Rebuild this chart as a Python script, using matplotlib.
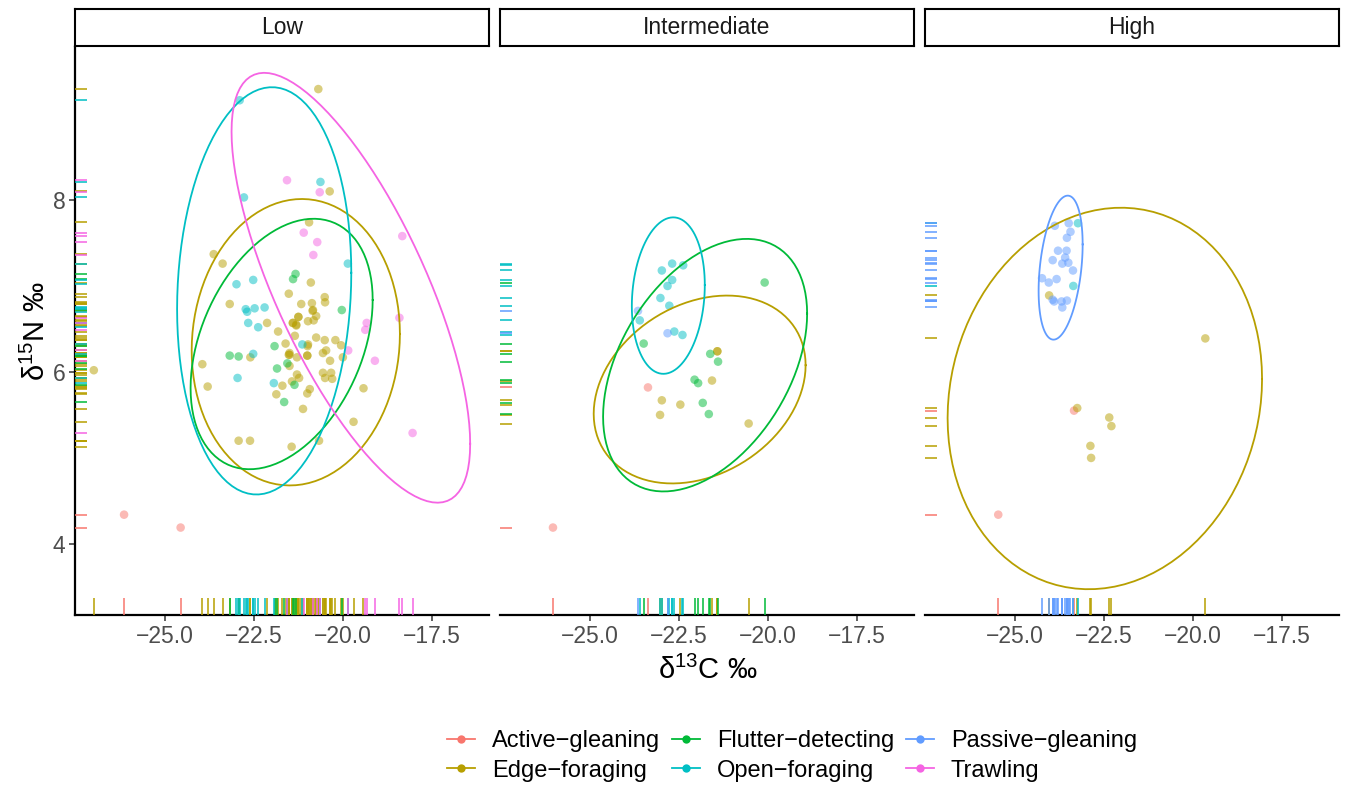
import numpy as np
import matplotlib
matplotlib.use("Agg")
import matplotlib.pyplot as plt
from matplotlib.lines import Line2D
from matplotlib.transforms import blended_transform_factory

plt.rcParams['font.family'] = ['Liberation Sans', 'DejaVu Sans']
plt.rcParams['mathtext.default'] = 'regular'

GROUPS = ["Active-gleaning", "Edge-foraging", "Flutter-detecting",
          "Open-foraging", "Passive-gleaning", "Trawling"]
LEGEND_LABELS = [g.replace("-", "\u2212") for g in GROUPS]
COLORS = ["#F8766D", "#B79F00", "#00BA38", "#00BFC4", "#619CFF", "#F564E3"]
PANELS = ["Low", "Intermediate", "High"]
X_TICKS = [-25.0, -22.5, -20.0, -17.5]
Y_TICKS = [4, 6, 8]

# ---------------- Low ----------------
low_active_c = [-26.15, -24.56]
low_active_n = [4.34, 4.19]
low_edge_c = [-20.69, -20.37, -27.0, -23.63, -23.38, -23.18, -20.95, -20.9, -21.52, -21.17,
              -20.87, -20.84, -20.51, -20.50, -21.25, -20.75, -20.82, -20.98, -21.40, -21.31,
              -22.13, -21.82, -21.35, -21.61, -20.75, -20.51, -20.21, -20.05, -20.0, -20.47,
              -20.56, -20.98, -21.0, -21.5, -21.52, -21.29, -21.5, -20.36, -22.6, -23.95,
              -23.8, -20.56, -20.33, -20.3, -20.5, -21.29, -21.23, -21.43, -21.7, -20.93,
              -21.0, -21.87, -21.12, -19.42, -19.7, -22.93, -22.61, -21.44, -20.67,
              -20.85, -21.31, -20.99, -21.5, -21.41, -21.0, -21.25]
low_edge_n = [9.29, 8.10, 6.02, 7.37, 7.26, 6.79, 7.74, 7.04, 6.91, 6.79,
              6.80, 6.72, 6.87, 6.81, 6.64, 6.65, 6.60, 6.59, 6.57, 6.55,
              6.57, 6.47, 6.42, 6.33, 6.40, 6.37, 6.37, 6.31, 6.17, 6.25,
              6.22, 6.32, 6.19, 6.22, 6.20, 6.17, 6.07, 6.13, 6.17, 6.09,
              5.83, 5.99, 5.99, 5.92, 5.93, 5.97, 5.93, 5.89, 5.84, 5.80,
              5.75, 5.74, 5.57, 5.81, 5.42, 5.20, 5.20, 5.13, 5.20,
              6.71, 6.54, 6.30, 6.20, 6.57, 6.19, 6.64]
low_flutter_c = [-21.33, -21.4, -20.03, -21.92, -23.18, -22.93, -21.56, -21.85, -21.36, -21.65]
low_flutter_n = [7.14, 7.08, 6.72, 6.30, 6.19, 6.18, 6.10, 6.04, 5.85, 5.65]
low_open_c = [-22.9, -22.78, -20.63, -19.86, -22.99, -22.52, -22.73, -22.69, -22.48, -22.2,
              -22.66, -22.38, -22.52, -22.96, -21.94, -21.14]
low_open_n = [9.16, 8.03, 8.21, 7.26, 7.02, 7.07, 6.73, 6.70, 6.74, 6.75,
              6.57, 6.52, 6.21, 5.93, 5.87, 6.32]
low_trawl_c = [-21.57, -20.65, -21.1, -20.72, -20.83, -18.33, -18.41, -19.33, -19.37, -19.85, -19.1, -18.04]
low_trawl_n = [8.23, 8.09, 7.62, 7.51, 7.36, 7.58, 6.63, 6.57, 6.49, 6.25, 6.13, 5.29]

# ---------------- Intermediate ----------------
mid_active_c = [-26.04, -23.37]
mid_active_n = [4.19, 5.82]
mid_edge_c = [-21.42, -21.42, -21.57, -22.98, -22.46, -23.03, -20.54]
mid_edge_n = [6.24, 6.24, 5.90, 5.67, 5.62, 5.50, 5.40]
mid_flutter_c = [-20.09, -23.49, -21.62, -21.40, -22.06, -21.96, -21.83, -21.66]
mid_flutter_n = [7.04, 6.33, 6.21, 6.12, 5.91, 5.87, 5.64, 5.51]
mid_open_c = [-22.69, -22.38, -22.98, -22.69, -22.82, -23.02, -22.77, -23.6, -22.63, -22.40]
mid_open_n = [7.26, 7.24, 7.18, 7.07, 7.00, 6.86, 6.77, 6.60, 6.47, 6.43]
mid_passive_c = [-23.65, -22.82]
mid_passive_n = [6.71, 6.45]

# ---------------- High ----------------
high_active_c = [-25.47, -23.34]
high_active_n = [4.34, 5.55]
high_edge_c = [-19.65, -23.25, -22.35, -22.29, -22.88, -22.86, -24.04]
high_edge_n = [6.39, 5.58, 5.47, 5.37, 5.14, 5.00, 6.89]
high_open_c = [-23.23, -23.36]
high_open_n = [7.73, 7.00]
high_passive_c = [-23.88, -23.49, -23.44, -23.54, -23.79, -23.55, -23.59, -23.94, -23.67, -23.50,
                  -23.37, -24.24, -23.83, -24.05, -23.90, -23.69, -23.54, -23.67, -23.94]
high_passive_n = [7.70, 7.73, 7.63, 7.56, 7.41, 7.41, 7.33, 7.30, 7.26, 7.27,
                  7.18, 7.09, 7.08, 7.04, 6.82, 6.82, 6.83, 6.75, 6.84]

panel_data = {
    "Low": {"Active-gleaning": (low_active_c, low_active_n),
            "Edge-foraging": (low_edge_c, low_edge_n),
            "Flutter-detecting": (low_flutter_c, low_flutter_n),
            "Open-foraging": (low_open_c, low_open_n),
            "Trawling": (low_trawl_c, low_trawl_n)},
    "Intermediate": {"Active-gleaning": (mid_active_c, mid_active_n),
                     "Edge-foraging": (mid_edge_c, mid_edge_n),
                     "Flutter-detecting": (mid_flutter_c, mid_flutter_n),
                     "Open-foraging": (mid_open_c, mid_open_n),
                     "Passive-gleaning": (mid_passive_c, mid_passive_n)},
    "High": {"Active-gleaning": (high_active_c, high_active_n),
             "Edge-foraging": (high_edge_c, high_edge_n),
             "Open-foraging": (high_open_c, high_open_n),
             "Passive-gleaning": (high_passive_c, high_passive_n)},
}


def ellipse_path(x, y, level=0.95, segments=101):
    """Normal-theory confidence ellipse (like ggplot2 stat_ellipse(type='norm'))."""
    x = np.asarray(x, float)
    y = np.asarray(y, float)
    n = len(x)
    if n < 3:
        return None
    center = np.array([x.mean(), y.mean()])
    cov = np.cov(np.vstack([x, y]))
    dfd = n - 1
    qf = dfd / 2.0 * ((1 - level) ** (-2.0 / dfd) - 1)
    radius = np.sqrt(2 * qf)
    L = np.linalg.cholesky(cov)
    t = np.linspace(0, 2 * np.pi, segments)
    circ = np.column_stack([np.cos(t), np.sin(t)])
    return center + radius * circ @ L.T


# shared limits like ggplot (data + ellipse paths, 5% expansion)
allx, ally = [], []
ellipses = {}
for p in PANELS:
    for g, (cx, ny) in panel_data[p].items():
        allx += list(cx)
        ally += list(ny)
        e = ellipse_path(cx, ny)
        ellipses[(p, g)] = e
        if e is not None:
            allx += list(e[:, 0])
            ally += list(e[:, 1])
xmin, xmax = min(allx), max(allx)
ymin, ymax = min(ally), max(ally)
xpad = 0.05 * (xmax - xmin)
ypad = 0.05 * (ymax - ymin)
xlim = (xmin - xpad, xmax + xpad)
ylim = (ymin - ypad, ymax + ypad)

W, H = 1346, 786
fig = plt.figure(figsize=(W / 100, H / 100), dpi=100)

panel_left = [75, 500, 925]
panel_w = 414
top, bottom = 47, 615
strip_top = 9

TICK_FS = 16.5
LEG_FS = 17
TITLE_FS = 21
GREY30 = "#4D4D4D"

for i, p in enumerate(PANELS):
    ax = fig.add_axes([panel_left[i] / W, 1 - bottom / H, panel_w / W, (bottom - top) / H])
    for g, (cx, ny) in panel_data[p].items():
        col = COLORS[GROUPS.index(g)]
        ax.scatter(cx, ny, s=38, color=col, alpha=0.5, edgecolors='none', zorder=2)
    for g, (cx, ny) in panel_data[p].items():
        col = COLORS[GROUPS.index(g)]
        e = ellipses[(p, g)]
        if e is not None:
            ax.plot(e[:, 0], e[:, 1], color=col, lw=1.3, zorder=3)
    trx = blended_transform_factory(ax.transData, ax.transAxes)
    try_ = blended_transform_factory(ax.transAxes, ax.transData)
    for g, (cx, ny) in panel_data[p].items():
        col = COLORS[GROUPS.index(g)]
        ax.vlines(cx, 0, 0.03, transform=trx, color=col, lw=1.1, zorder=4)
        ax.hlines(ny, 0, 0.03, transform=try_, color=col, lw=1.1, zorder=4)
    ax.set_xlim(xlim)
    ax.set_ylim(ylim)
    ax.set_xticks(X_TICKS)
    ax.set_xticklabels([f"{v:.1f}".replace("-", "\u2212") for v in X_TICKS])
    ax.spines['top'].set_visible(False)
    ax.spines['right'].set_visible(False)
    ax.spines['bottom'].set_linewidth(1.6)
    ax.tick_params(axis='x', length=4, width=1.1, colors='#333333', labelcolor=GREY30,
                   labelsize=TICK_FS, pad=3)
    if i == 0:
        ax.set_yticks(Y_TICKS)
        ax.spines['left'].set_linewidth(1.6)
        ax.tick_params(axis='y', length=4, width=1.1, colors='#333333', labelcolor=GREY30,
                       labelsize=TICK_FS, pad=3)
        ax.set_ylabel("\u03b4$^{15}$N \u2030", fontsize=TITLE_FS, labelpad=1)
    else:
        ax.spines['left'].set_visible(False)
        ax.set_yticks([])
    ax.set_facecolor('white')

    # strip
    sax = fig.add_axes([panel_left[i] / W, 1 - (top - 1) / H, panel_w / W, (top - 1 - strip_top) / H])
    sax.set_xticks([])
    sax.set_yticks([])
    for s in sax.spines.values():
        s.set_linewidth(1.5)
        s.set_color('black')
    sax.text(0.5, 0.5, p, ha='center', va='center', fontsize=TICK_FS, color='#1A1A1A',
             transform=sax.transAxes)

fig.text(708 / W, 1 - 670 / H, "\u03b4$^{13}$C \u2030", ha='center', va='center', fontsize=TITLE_FS)

handles = [Line2D([0], [0], color=c, lw=1.3, marker='o', markersize=6, markeredgewidth=0)
           for c in COLORS]
fig.legend(handles, LEGEND_LABELS, loc='center', bbox_to_anchor=(792 / W, 1 - 756 / H), ncol=3,
           frameon=False, fontsize=LEG_FS, handlelength=1.2, handletextpad=0.7,
           columnspacing=0.5, labelspacing=0.3)

fig.savefig("out.png", dpi=100)
